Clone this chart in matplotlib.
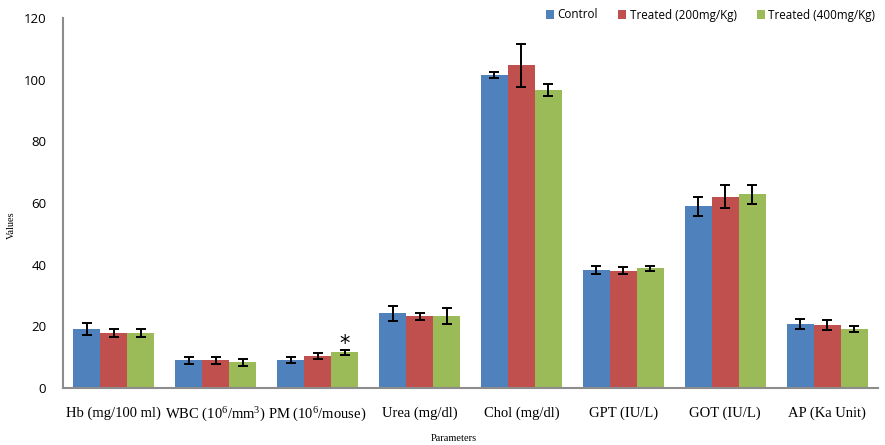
import matplotlib
matplotlib.use("Agg")
import matplotlib.pyplot as plt
import numpy as np

plt.rcParams['mathtext.fontset'] = 'custom'
plt.rcParams['mathtext.rm'] = 'Liberation Serif'
plt.rcParams['mathtext.default'] = 'rm'

categories = ["Hb (mg/100 ml)", r"WBC (10$^{6}$/mm$^{3}$)", r"PM (10$^{6}$/mouse)", "Urea (mg/dl)",
              "Chol (mg/dl)", "GPT (IU/L)", "GOT (IU/L)", "AP (Ka Unit)"]
series_names = ["Control", "Treated (200mg/Kg)", "Treated (400mg/Kg)"]
control = [19.1, 9.0, 9.0, 24.2, 101.6, 38.4, 58.9, 20.8]
treated200 = [17.8, 9.0, 10.4, 23.2, 104.6, 38.1, 62.1, 20.4]
treated400 = [17.8, 8.3, 11.6, 23.3, 96.7, 38.8, 62.8, 19.1]
control_err = [2.0, 1.2, 1.0, 2.5, 1.0, 1.3, 3.0, 1.7]
treated200_err = [1.3, 1.1, 1.0, 1.1, 7.1, 1.0, 3.7, 1.6]
treated400_err = [1.3, 1.2, 0.8, 2.7, 2.0, 0.8, 3.0, 1.0]
yticks = [0, 20, 40, 60, 80, 100, 120]

colors = ["#4F81BD", "#C0504D", "#9BBB59"]

fig = plt.figure(figsize=(8.85, 4.45), dpi=100)
ax = fig.add_axes([63/885, 57/445, 815/885, 370/445])

x = np.arange(len(categories))
w = 0.265
vals = [control, treated200, treated400]
errs = [control_err, treated200_err, treated400_err]
for i, (v, e, c, n) in enumerate(zip(vals, errs, colors, series_names)):
    ax.bar(x + (i - 1) * w, v, width=w, color=c, label=n, edgecolor='none',
           yerr=e, capsize=3.5, error_kw=dict(ecolor='black', elinewidth=1.4, capthick=1.4))

# significance marker on PM treated 400
ax.text(x[2] + w, treated400[2] + treated400_err[2] + 2.0, "*", ha='center', va='center',
        fontsize=15, family='DejaVu Sans')

ax.set_xlim(-0.5, len(categories) - 0.5)
ax.set_ylim(0, 120)
ax.set_yticks(yticks)
ax.set_xticks(x)
ax.set_xticklabels(categories, family='Liberation Serif', fontsize=10.5)
for lab in ax.get_yticklabels():
    lab.set_family('Open Sans')
    lab.set_fontsize(9.5)
ax.tick_params(axis='both', length=0)
ax.tick_params(axis='y', pad=12)
ax.tick_params(axis='x', pad=13)

for s in ['top', 'right']:
    ax.spines[s].set_visible(False)
for s in ['left', 'bottom']:
    ax.spines[s].set_color('#8c8c8c')
    ax.spines[s].set_linewidth(1.5)

ax.set_xlabel("Parameters", family='Liberation Serif', fontsize=7.5)
ax.xaxis.set_label_coords(0.48, -0.125)
ax.set_ylabel("Values", family='Liberation Serif', fontsize=7.5)
ax.yaxis.set_label_coords(-0.058, 0.44)

fig.legend(loc='center left', bbox_to_anchor=(546/885, 1 - 15/445), ncol=3, frameon=False,
           prop={'family': 'Open Sans', 'size': 8.4}, handlelength=0.7, handleheight=0.7,
           handletextpad=0.3, columnspacing=1.7, borderaxespad=0, borderpad=0)

fig.savefig("out.png", dpi=100)
